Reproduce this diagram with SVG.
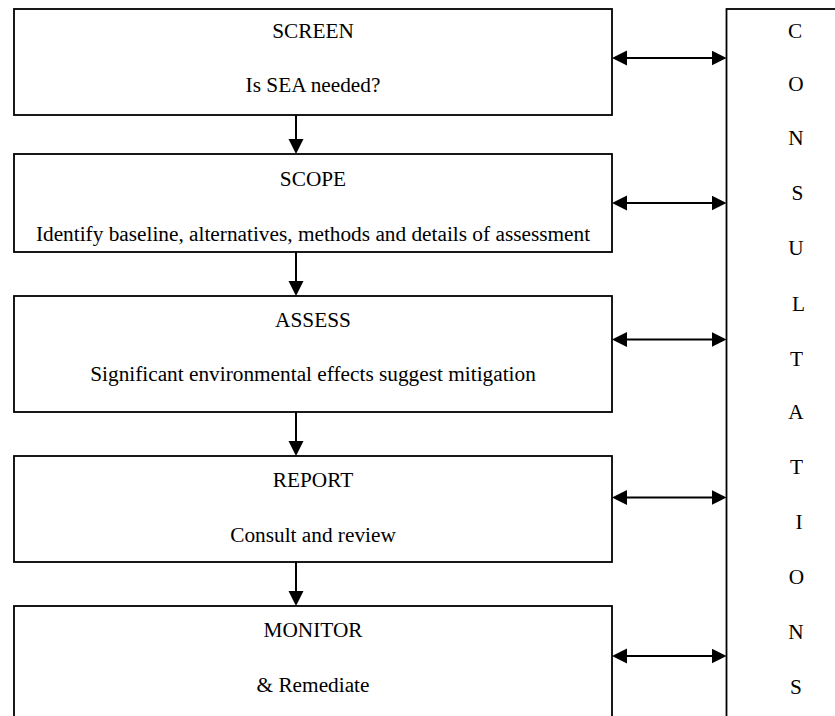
<svg xmlns="http://www.w3.org/2000/svg" width="835" height="716" viewBox="0 0 835 716">
  <style>
    .box { fill: #fff; stroke: #000; stroke-width: 1.8; }
    .t { font-family: "Liberation Serif", "Times New Roman", serif; font-size: 21.3px; fill: #000; text-anchor: middle; }
    .c { stroke: #000; stroke-width: 2; fill: none; }
  </style>
  <defs>
    <marker id="ah" markerUnits="userSpaceOnUse" markerWidth="16" markerHeight="16" refX="7" refY="7.5" orient="auto-start-reverse">
      <path d="M0,0 L15,7.5 L0,15 z" fill="#000"/>
    </marker>
  </defs>
  <rect width="835" height="716" fill="#fff"/>

  <g id="consultations">
    <rect class="box" x="726.5" y="9" width="200" height="800"/>
    <text class="t" x="795" y="38">C</text>
    <text class="t" x="796" y="91">O</text>
    <text class="t" x="796" y="145">N</text>
    <text class="t" x="797.5" y="200">S</text>
    <text class="t" x="796" y="255">U</text>
    <text class="t" x="798.5" y="310.5">L</text>
    <text class="t" x="796.5" y="365.5">T</text>
    <text class="t" x="796" y="419">A</text>
    <text class="t" x="796.5" y="474">T</text>
    <text class="t" x="799" y="529">I</text>
    <text class="t" x="796.5" y="584">O</text>
    <text class="t" x="796" y="639">N</text>
    <text class="t" x="796" y="694">S</text>
  </g>

  <g id="screen">
    <rect class="box" x="14" y="9" width="598" height="106"/>
    <text class="t" x="313" y="38">SCREEN</text>
    <text class="t" x="313" y="92">Is SEA needed?</text>
  </g>
  <g id="scope">
    <rect class="box" x="14" y="154" width="598" height="98"/>
    <text class="t" x="313" y="185.5">SCOPE</text>
    <text class="t" x="313" y="240.5">Identify baseline, alternatives, methods and details of assessment</text>
  </g>
  <g id="assess">
    <rect class="box" x="14" y="296" width="598" height="116"/>
    <text class="t" x="313" y="326.5">ASSESS</text>
    <text class="t" x="313" y="380.5">Significant environmental effects suggest mitigation</text>
  </g>
  <g id="report">
    <rect class="box" x="14" y="456" width="598" height="106"/>
    <text class="t" x="313" y="486.5">REPORT</text>
    <text class="t" x="313" y="541.5">Consult and review</text>
  </g>
  <g id="monitor">
    <rect class="box" x="14" y="606" width="598" height="200"/>
    <text class="t" x="313" y="636.5">MONITOR</text>
    <text class="t" x="313" y="691.5">&amp; Remediate</text>
  </g>

  <g id="connectors">
    <line class="c" x1="296" y1="115" x2="296" y2="146" marker-end="url(#ah)"/>
    <line class="c" x1="296" y1="252" x2="296" y2="288" marker-end="url(#ah)"/>
    <line class="c" x1="296" y1="412" x2="296" y2="448" marker-end="url(#ah)"/>
    <line class="c" x1="296" y1="562" x2="296" y2="598" marker-end="url(#ah)"/>

    <line class="c" x1="620" y1="58" x2="718.5" y2="58" marker-start="url(#ah)" marker-end="url(#ah)"/>
    <line class="c" x1="620" y1="203" x2="718.5" y2="203" marker-start="url(#ah)" marker-end="url(#ah)"/>
    <line class="c" x1="620" y1="339.5" x2="718.5" y2="339.5" marker-start="url(#ah)" marker-end="url(#ah)"/>
    <line class="c" x1="620" y1="497.5" x2="718.5" y2="497.5" marker-start="url(#ah)" marker-end="url(#ah)"/>
    <line class="c" x1="620" y1="656" x2="718.5" y2="656" marker-start="url(#ah)" marker-end="url(#ah)"/>
  </g>
</svg>
